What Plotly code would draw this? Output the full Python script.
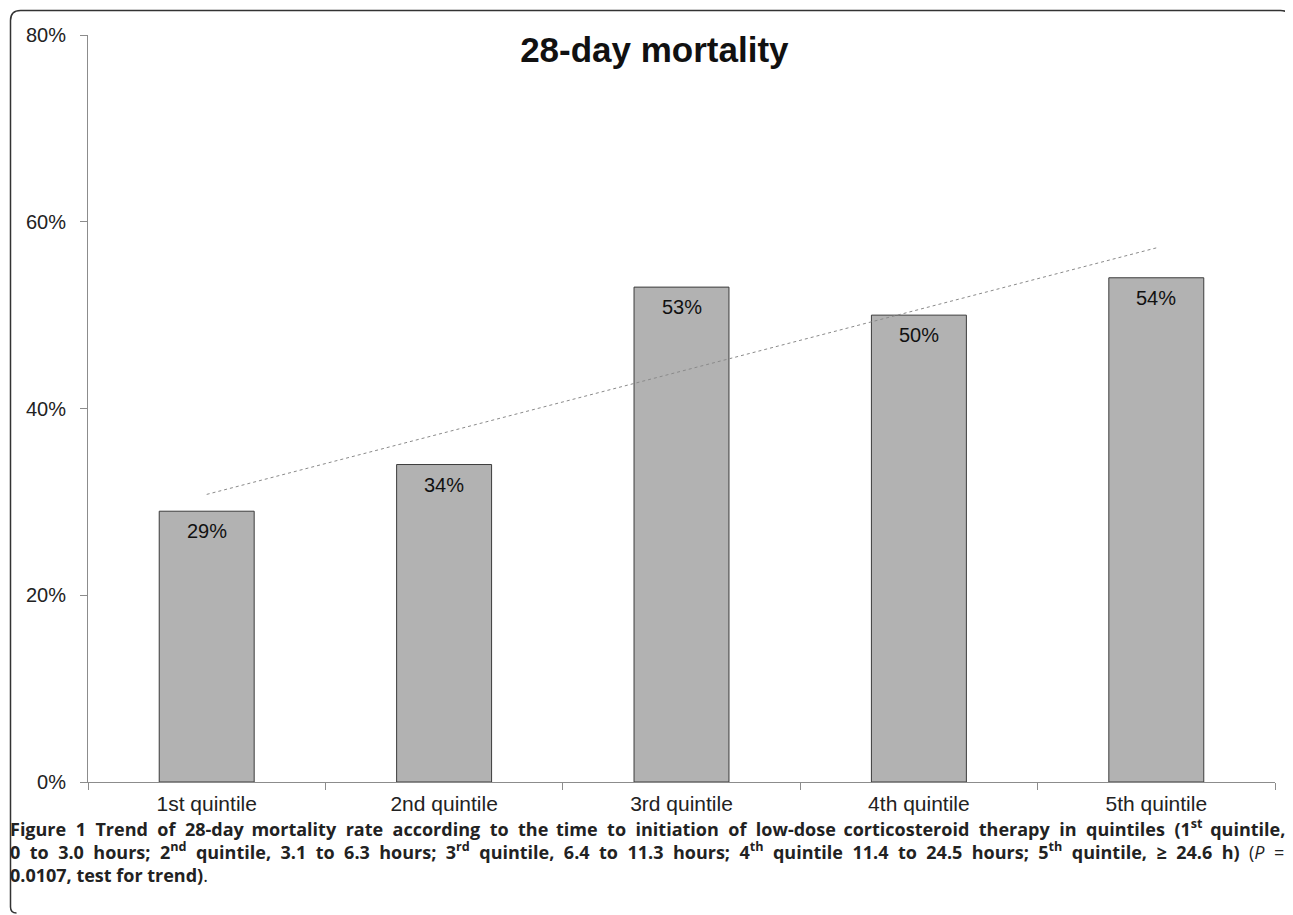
import numpy as np
import plotly.graph_objects as go

categories = ["1st quintile", "2nd quintile", "3rd quintile", "4th quintile", "5th quintile"]
mortality = [0.29, 0.34, 0.53, 0.50, 0.54]
bar_labels = ["29%", "34%", "53%", "50%", "54%"]
y_ticks = [0, 0.2, 0.4, 0.6, 0.8]
y_tick_labels = ["0%", "20%", "40%", "60%", "80%"]

# linear trend line through the bar values
xi = np.arange(1, len(mortality) + 1)
slope, intercept = np.polyfit(xi, mortality, 1)
trend = [slope * x + intercept for x in xi]

W, H = 1285, 907
L, R, T, B = 80, 18, 27, 133
pw, ph = W - L - R, H - T - B

def px(x):  # figure px -> paper x
    return (x - L) / pw

def py(y):  # figure px -> paper y
    return 1 - (y - T) / ph

fig = go.Figure()
fig.add_trace(go.Bar(
    x=categories, y=mortality,
    marker=dict(color="#b2b2b2", line=dict(color="#3c3c3c", width=1)),
    showlegend=False, hoverinfo="skip",
))
fig.add_trace(go.Scatter(
    x=categories, y=trend, mode="lines",
    line=dict(color="#8a8a8a", width=1, dash="dot"),
    showlegend=False, hoverinfo="skip",
))

annotations = []
for c, v, t in zip(categories, mortality, bar_labels):
    annotations.append(dict(
        x=c, y=v, xref="x", yref="y", text=t, showarrow=False,
        yanchor="top", yshift=-7,
        font=dict(family="Liberation Sans, Arial", size=20, color="#111111"),
    ))


def justify(text, every):
    """join words with widened spaces (hair space added except on every n-th gap)"""
    words = text.split(" ")
    out = words[0]
    for i, w in enumerate(words[1:], start=1):
        gap = " \u2009" if (every and i % every == 0) else " \u2009\u200a"
        out += gap + w
    return out


line1 = justify("<b>Figure 1 Trend of 28-day mortality rate according to the time to initiation of low-dose corticosteroid therapy in quintiles (1<sup>st</sup> quintile,</b>", 5)
line2 = justify("<b>0 to 3.0 hours; 2<sup>nd</sup> quintile, 3.1 to 6.3 hours; 3<sup>rd</sup> quintile, 6.4 to 11.3 hours; 4<sup>th</sup> quintile 11.4 to 24.5 hours; 5<sup>th</sup> quintile, ≥ 24.6 h)</b> (<i>P</i> =", 0)
line3 = "<b>0.0107, test for trend)</b>."
caption = line1 + "<br>" + line2 + "<br>" + line3

annotations.append(dict(
    text=caption, xref="paper", yref="paper", x=px(0), y=py(805),
    xanchor="left", yanchor="top", align="left", showarrow=False,
    font=dict(family="Open Sans", size=18, color="#222222"),
))

xl, xr, yt, yb = px(2.5), px(1282.5), py(2.5), py(905)
rx, ry = 10 / pw, 10 / ph
border = (
    f"M {xl + rx*0.6},{yb} Q {xl},{yb} {xl},{yb + ry*0.6} "
    f"L {xl},{yt - ry} Q {xl},{yt} {xl + rx},{yt} "
    f"L {xr - rx},{yt} Q {xr},{yt} {xr},{yt - ry}"
)

fig.update_layout(
    width=W, height=H,
    margin=dict(l=L, r=R, t=T, b=B),
    paper_bgcolor="white", plot_bgcolor="white",
    bargap=0.6,
    font=dict(family="Liberation Sans, Arial", size=20, color="#222222"),
    title=dict(text="<b>28-day mortality</b>", x=0.503, xref="container", xanchor="center",
               y=1 - 42 / H, yanchor="middle",
               font=dict(family="Liberation Sans, Arial", size=35, color="#111111")),
    xaxis=dict(
        showline=True, linecolor="#8c8c8c", linewidth=1,
        ticks="outside", ticklen=7, tickcolor="#8c8c8c", tickson="boundaries",
        showgrid=False, tickfont=dict(size=21, color="#222222"),
        ticklabelstandoff=3,
        range=[-0.5, 4.5],
    ),
    yaxis=dict(
        range=[0, 0.8], tickvals=y_ticks, ticktext=y_tick_labels,
        showline=True, linecolor="#8c8c8c", linewidth=1,
        ticks="outside", ticklen=7, tickcolor="#8c8c8c",
        ticklabelstandoff=10,
        showgrid=False, zeroline=False, tickfont=dict(size=20, color="#222222"),
    ),
    annotations=annotations,
    shapes=[dict(type="path", xref="paper", yref="paper", path=border,
                 line=dict(color="#333333", width=1.5))],
)

fig.write_html("out.html")
